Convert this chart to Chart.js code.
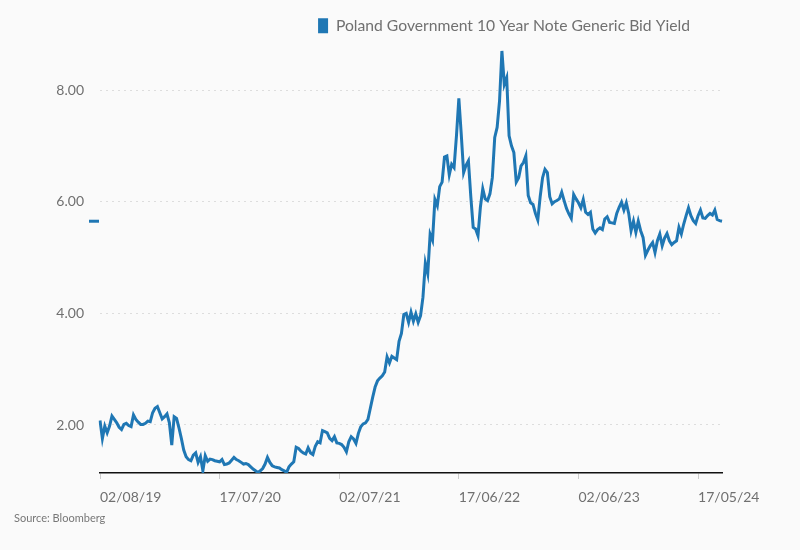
<!DOCTYPE html>
<html>
<head>
<meta charset="utf-8">
<script src="https://cdn.jsdelivr.net/npm/chart.js@4.4.1/dist/chart.umd.min.js"></script>
<style>
  html, body { margin: 0; padding: 0; background: #fafafa; }
  #wrap { position: relative; width: 800px; height: 550px; }
  #source { position: absolute; left: 14px; top: 511px; font: 11px Lato, sans-serif; color: #777; }
</style>
</head>
<body>
<div id="wrap">
  <canvas id="yieldChart" width="800" height="550"></canvas>
  <div id="source">Source: Bloomberg</div>
</div>
<script>
// weekly closes, first week 02/08/19
const seriesName = 'Poland Government 10 Year Note Generic Bid Yield';
const startDate = '2019-08-02';
const yieldValues = [
  2.08, 1.76, 1.98, 1.86, 1.98, 2.16, 2.10, 2.04, 1.96, 1.92,
  2.01, 2.03, 1.99, 1.97, 2.18, 2.10, 2.05, 2.01, 2.01, 2.03,
  2.07, 2.06, 2.22, 2.30, 2.33, 2.22, 2.11, 2.15, 2.20, 2.04,
  1.64, 2.15, 2.12, 1.95, 1.76, 1.55, 1.43, 1.38, 1.36, 1.46,
  1.50, 1.33, 1.43, 1.18, 1.45, 1.35, 1.39, 1.38, 1.36, 1.35,
  1.34, 1.38, 1.29, 1.30, 1.32, 1.37, 1.42, 1.38, 1.36, 1.33,
  1.30, 1.31, 1.29, 1.25, 1.21, 1.18, 1.15, 1.18, 1.22, 1.30,
  1.42, 1.33, 1.27, 1.25, 1.24, 1.23, 1.20, 1.18, 1.15, 1.25,
  1.30, 1.34, 1.60, 1.58, 1.53, 1.50, 1.48, 1.59, 1.50, 1.47,
  1.62, 1.70, 1.68, 1.90, 1.88, 1.86, 1.76, 1.72, 1.79, 1.68,
  1.67, 1.65, 1.60, 1.52, 1.70, 1.79, 1.75, 1.67, 1.85, 1.97,
  2.02, 2.04, 2.10, 2.30, 2.50, 2.68, 2.79, 2.84, 2.88, 2.95,
  3.22, 3.11, 3.23, 3.20, 3.17, 3.50, 3.64, 3.98, 4.00, 3.84,
  4.02, 3.86, 3.99, 3.84, 3.96, 4.29, 4.90, 4.71, 5.42, 5.31,
  6.04, 5.93, 6.27, 6.35, 6.80, 6.82, 6.48, 6.67, 6.61, 7.18,
  7.85, 7.21, 6.52, 6.65, 6.73, 6.09, 5.54, 5.51, 5.39, 5.90,
  6.23, 6.05, 6.02, 6.14, 6.43, 7.15, 7.33, 7.80, 8.70, 8.10,
  8.22, 7.18, 7.00, 6.88, 6.35, 6.43, 6.64, 6.70, 6.82, 6.11,
  5.98, 5.95, 5.79, 5.67, 6.09, 6.43, 6.58, 6.52, 6.09, 5.96,
  6.00, 6.02, 6.05, 6.17, 6.02, 5.88, 5.78, 5.70, 6.13, 6.05,
  5.98, 5.89, 6.04, 5.81, 5.77, 5.81, 5.51, 5.44, 5.50, 5.53,
  5.50, 5.69, 5.73, 5.63, 5.62, 5.61, 5.79, 5.90, 5.99, 5.85,
  5.98, 5.79, 5.48, 5.65, 5.45, 5.65, 5.48, 5.36, 5.04, 5.13,
  5.21, 5.27, 5.09, 5.30, 5.42, 5.21, 5.35, 5.43, 5.30, 5.23,
  5.27, 5.30, 5.54, 5.42, 5.60, 5.75, 5.89, 5.75, 5.66, 5.61,
  5.75, 5.85, 5.71, 5.70, 5.75, 5.79, 5.76, 5.85, 5.68, 5.66,
  5.65
];
const yTicks = [2, 4, 6, 8];
const xTickEvery = 50;

const pad = n => String(n).padStart(2, '0');
const weekLabels = yieldValues.map((v, i) => {
  const d = new Date(startDate + 'T00:00:00Z');
  d.setUTCDate(d.getUTCDate() + i * 7);
  return pad(d.getUTCDate()) + '/' + pad(d.getUTCMonth() + 1) + '/' + String(d.getUTCFullYear()).slice(2);
});

const blue = '#1f77b4';
const grey = '#707070';

// little dash on the y axis at the latest value
const lastValueMark = {
  id: 'lastValueMark',
  afterDatasetsDraw(chart) {
    const { ctx, chartArea, scales } = chart;
    const y = scales.y.getPixelForValue(yieldValues[yieldValues.length - 1]);
    ctx.save();
    ctx.strokeStyle = blue;
    ctx.lineWidth = 3;
    ctx.beginPath();
    ctx.moveTo(chartArea.left - 11, y);
    ctx.lineTo(chartArea.left - 1, y);
    ctx.stroke();
    ctx.restore();
  }
};

const legendNudge = {
  id: 'legendNudge',
  afterLayout(chart) { chart.legend.right -= 22; }
};

new Chart(document.getElementById('yieldChart').getContext('2d'), {
  type: 'line',
  data: {
    labels: weekLabels,
    datasets: [{
      label: seriesName,
      data: yieldValues,
      borderColor: blue,
      backgroundColor: blue,
      borderWidth: 3,
      pointRadius: 0,
      tension: 0
    }]
  },
  options: {
    responsive: false,
    animation: false,
    layout: { padding: { top: 8, right: 78, left: 0, bottom: 0 } },
    plugins: {
      legend: {
        align: 'end',
        labels: {
          color: grey,
          font: { family: 'Lato', size: 15.7 },
          boxWidth: 10,
          boxHeight: 15,
          generateLabels: c => Chart.defaults.plugins.legend.labels.generateLabels(c).map(l => ({ ...l, lineWidth: 0 }))
        }
      },
      tooltip: { enabled: false }
    },
    scales: {
      x: {
        afterFit: s => { s.height = 77; },
        grid: {
          drawOnChartArea: false,
          tickLength: 6,
          tickColor: c => c.index % xTickEvery === 0 ? '#cccccc' : 'transparent'
        },
        border: { color: '#111', width: 1.5 },
        ticks: {
          autoSkip: false,
          maxRotation: 0,
          align: 'start',
          padding: 10,
          color: grey,
          font: { family: 'Lato', size: 14 },
          callback: (v, i) => i % xTickEvery === 0 ? weekLabels[i] : ''
        }
      },
      y: {
        min: 1.14,
        max: 8.83,
        afterFit: s => { s.width = 100; },
        afterBuildTicks: s => { s.ticks = yTicks.map(v => ({ value: v })); },
        grid: { color: '#dddddd', drawTicks: false },
        border: { display: false, dash: [2, 4] },
        ticks: {
          padding: 16,
          color: grey,
          font: { family: 'Lato', size: 14 },
          callback: v => v.toFixed(2)
        }
      }
    }
  },
  plugins: [lastValueMark, legendNudge]
});
</script>
</body>
</html>
